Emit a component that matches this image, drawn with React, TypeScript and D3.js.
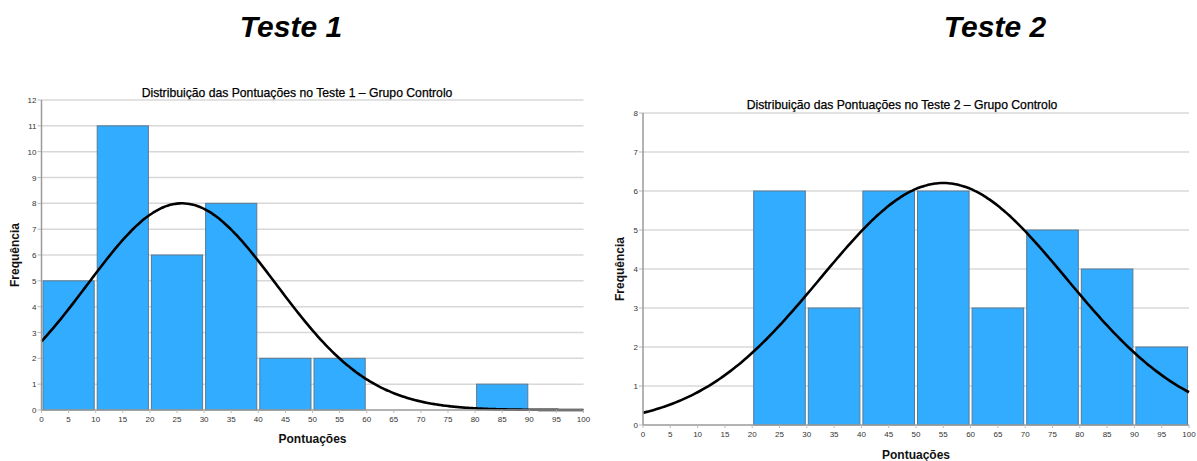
import React from "react";
import * as d3 from "d3";

// Histogram bins (lower edge of each 10-point bin) and their counts
const test1BinStarts = [0, 10, 20, 30, 40, 50, 60, 70, 80, 90];
const test1Counts = [5, 11, 6, 8, 2, 2, 0, 0, 1, 0];
const test2BinStarts = [0, 10, 20, 30, 40, 50, 60, 70, 80, 90];
const test2Counts = [0, 0, 6, 3, 6, 6, 3, 5, 4, 2];

// Fitted normal curve parameters (mean, standard deviation, N)
const test1Fit = { mean: 25.9, sd: 17.45, n: 35 };
const test2Fit = { mean: 55.0, sd: 22.5, n: 35 };

const xTicks = d3.range(0, 101, 5);
const test1YTicks = d3.range(0, 13, 1);
const test2YTicks = d3.range(0, 9, 1);

const BIN_WIDTH = 10;
const FONT = "'Liberation Sans', Arial, sans-serif";
const BAR_FILL = "#31acff";
const BAR_STROKE = "#5b7a92";
const GRID = "#d8d8d8";

type Fit = { mean: number; sd: number; n: number };

interface PanelProps {
  binStarts: number[];
  counts: number[];
  fit: Fit;
  yTicks: number[];
  yMax: number;
  left: number;
  right: number;
  top: number;
  bottom: number;
  title: string;
  titleX: number;
  titleY: number;
  xLabelY: number;
  yLabelX: number;
}

function Panel(p: PanelProps) {
  const x = d3.scaleLinear().domain([0, 100]).range([p.left, p.right]);
  const y = d3.scaleLinear().domain([0, p.yMax]).range([p.bottom, p.top]);

  const density = (v: number) =>
    (p.fit.n * BIN_WIDTH) / (p.fit.sd * Math.sqrt(2 * Math.PI)) *
    Math.exp(-0.5 * ((v - p.fit.mean) / p.fit.sd) ** 2);

  const curvePts = d3.range(0, 100.01, 0.5).map((v) => [v, density(v)] as [number, number]);
  const line = d3
    .line<[number, number]>()
    .x((d) => x(d[0]))
    .y((d) => y(d[1]))
    .curve(d3.curveBasis);

  const cx = (p.left + p.right) / 2;
  const cy = (p.top + p.bottom) / 2;

  return (
    <g>
      <text
        x={p.titleX}
        y={p.titleY}
        textAnchor="middle"
        fontFamily={FONT}
        fontSize={12.2}
        fill="#000"
        stroke="#000"
        strokeWidth={0.25}
      >
        {p.title}
      </text>
      {p.yTicks.map((t) => (
        <g key={"gy" + t}>
          {t > 0 && (
            <line x1={p.left} x2={p.right} y1={y(t)} y2={y(t)} stroke={GRID} strokeWidth={1.5} />
          )}
          <line x1={p.left - 4} x2={p.left} y1={y(t)} y2={y(t)} stroke="#bbb" strokeWidth={1} />
          <text
            x={p.left - 5}
            y={y(t) + 3}
            textAnchor="end"
            fontFamily={FONT}
            fontSize={8}
            fill="#333"
          >
            {t}
          </text>
        </g>
      ))}
      {p.counts.map((c, i) =>
        c > 0 ? (
          <rect
            key={"b" + i}
            x={x(p.binStarts[i]) + 1.5}
            y={y(c)}
            width={x(p.binStarts[i] + BIN_WIDTH) - x(p.binStarts[i]) - 3}
            height={y(0) - y(c)}
            fill={BAR_FILL}
            stroke={BAR_STROKE}
            strokeWidth={1}
          />
        ) : null
      )}
      <path d={line(curvePts) || ""} fill="none" stroke="#000" strokeWidth={2.6} />
      <line x1={p.left} x2={p.left} y1={p.top} y2={p.bottom} stroke="#9a9a9a" strokeWidth={1.5} />
      <line x1={p.left} x2={p.right} y1={p.bottom} y2={p.bottom} stroke="#9a9a9a" strokeWidth={1.5} />
      {xTicks.map((t) => (
        <g key={"gx" + t}>
          <line x1={x(t)} x2={x(t)} y1={p.bottom} y2={p.bottom + 3} stroke="#bbb" strokeWidth={1} />
          <text
            x={x(t)}
            y={p.bottom + 12}
            textAnchor="middle"
            fontFamily={FONT}
            fontSize={8}
            fill="#333"
          >
            {t}
          </text>
        </g>
      ))}
      <text
        x={cx}
        y={p.xLabelY}
        textAnchor="middle"
        fontFamily={FONT}
        fontSize={12}
        fontWeight="bold"
        fill="#111"
      >
        Pontuações
      </text>
      <text
        transform={`translate(${p.yLabelX},${cy}) rotate(-90)`}
        textAnchor="middle"
        fontFamily={FONT}
        fontSize={12}
        fontWeight="bold"
        fill="#111"
      >
        Frequência
      </text>
    </g>
  );
}

export default function App() {
  return (
    <svg
      width={1197}
      height={461}
      style={{ position: "absolute", left: 0, top: 0, background: "#fff" }}
    >
      <text
        x={291}
        y={37}
        textAnchor="middle"
        fontFamily={FONT}
        fontSize={30}
        fontWeight="bold"
        fontStyle="italic"
        fill="#000"
      >
        Teste 1
      </text>
      <text
        x={995}
        y={37}
        textAnchor="middle"
        fontFamily={FONT}
        fontSize={30}
        fontWeight="bold"
        fontStyle="italic"
        fill="#000"
      >
        Teste 2
      </text>
      <Panel
        binStarts={test1BinStarts}
        counts={test1Counts}
        fit={test1Fit}
        yTicks={test1YTicks}
        yMax={12}
        left={41.5}
        right={583.5}
        top={100}
        bottom={410}
        title="Distribuição das Pontuações no Teste 1 – Grupo Controlo"
        titleX={297}
        titleY={97}
        xLabelY={443}
        yLabelX={19}
      />
      <Panel
        binStarts={test2BinStarts}
        counts={test2Counts}
        fit={test2Fit}
        yTicks={test2YTicks}
        yMax={8}
        left={643}
        right={1189}
        top={113}
        bottom={425}
        title="Distribuição das Pontuações no Teste 2 – Grupo Controlo"
        titleX={902}
        titleY={109}
        xLabelY={459}
        yLabelX={624}
      />
    </svg>
  );
}
